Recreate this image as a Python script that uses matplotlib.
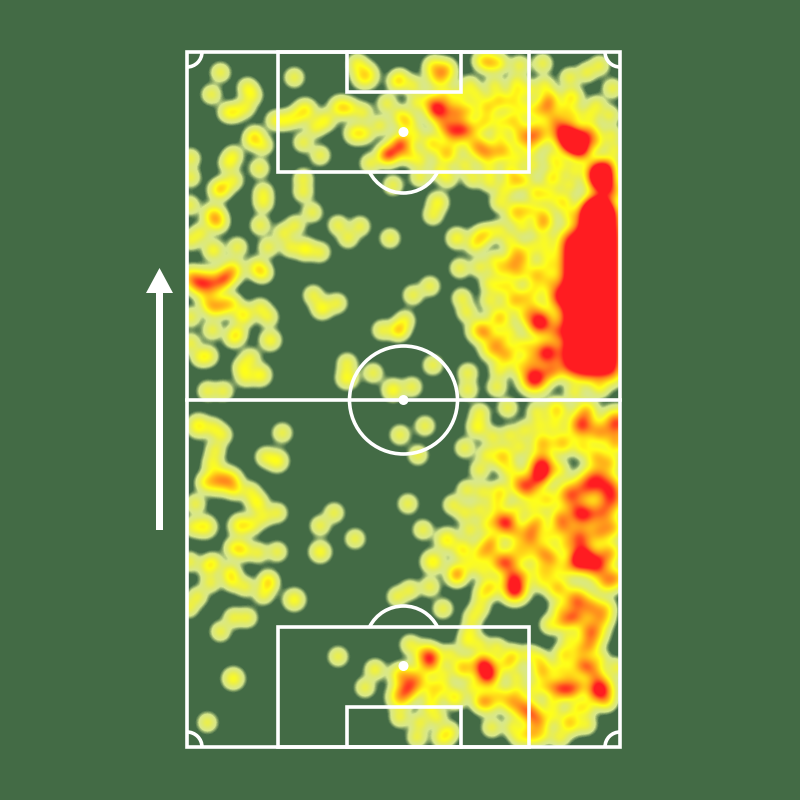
import numpy as np
import matplotlib
matplotlib.use("Agg")
import matplotlib.pyplot as plt
from matplotlib.colors import LinearSegmentedColormap
from matplotlib.patches import Arc, Circle, Rectangle, FancyArrow

# touches (x, y, count) in pitch-picture units
own_half_left = [
 (198,426,2),(213,428,1),(222,435,1),(215,450,1),(282,433,1),(265,457,1),(277,461,1.6),(212,463,1),(217,480,4),(230,481,2.5),
 (205,483,1),(235,490,1),(250,492,1),(257,503,1.6),(195,504,1),(277,513,1),(263,517,1),(205,527,1.7),(193,527,1),(240,526,2),
 (252,525,1),(242,550,1.7),(233,548,1),(258,553,1),(277,552,1),(189,562,1),(213,563,1),(207,567,1),(230,573,1.4),(268,580,1),
 (334,513,1),(320,526,1),(355,539,1),(320,552,1.5),
 (210,583,1),(197,597,1),(188,608,1),(232,582,1),(245,587,1),(268,585,1),(263,595,1),(294,600,1.6),(233,618,1),(247,618,1),
 (220,632,1),(338,657,1),(233,679,1.6),(207,723,1),(365,688,1),(375,670,1.2),(397,597,1),
]
own_half_right = [
 (425,426,1),(400,435,1),(465,448,1),(418,455,1),(408,504,1),(480,413,1),(478,427,1.6),(508,408,1),(537,412,1),(557,410,2.5),
 (582,425,7),(600,433,3),(617,423,7),(587,410,2),(543,443,3),(563,443,3),(583,447,1.5),(493,437,1),(503,457,3),(542,465,7),
 (560,470,1),(520,483,3),(528,490,3),(537,480,3),(543,473,2),(570,495,6),(587,487,5),(597,478,5),(610,487,5),(613,500,5),
 (587,515,4),(603,513,4),(578,513,4),(597,457,2.5),(610,463,2),(617,443,3),(467,490,1),(483,492,1),(500,493,2),(453,505,1),
 (465,513,1),(517,510,1),(533,507,1),(547,500,2),(500,520,3),(507,527,3),(533,528,3),(530,540,3),(543,553,3.5),(553,560,2),
 (563,527,3),(580,538,6),(600,533,3),(613,528,2.5),(583,557,7),(597,565,7),(577,563,3),(610,553,3),(423,530,1),(447,540,2),
 (433,562,2),(463,550,2),(488,548,3),(457,573,2),(510,562,3.5),(500,563,3),(483,570,1),(517,547,1),(550,573,1),(513,577,2),
 (493,540,1),(517,533,1),(560,517,2),
 (487,455,1),(480,470,1),(510,470,1),(520,447,1),(525,430,1),(510,435,1),(540,425,1),(555,425,1),(497,505,1),(510,520,1),
 (480,510,1),(487,525,1),(470,530,1),(480,555,1),(525,555,1),(540,520,1),(550,535,1),(565,545,1),(540,570,1),(565,570,1),
 (525,575,1),(470,565,1),
]
own_box_area = [
 (457,577,1),(443,609,1),(430,587,1),(410,590,1),(490,587,2),(515,587,6),(515,592,2),(542,582,1),(558,588,3),(577,601,6),
 (593,608,3),(592,632,6),(607,582,3),(617,578,2),(607,608,1),(563,622,2),(577,618,2),(603,618,2),(480,608,1),(483,595,1),
 (590,647,2),(565,655,2),(582,665,3),(590,668,2),(617,668,1),(543,672,3),(565,690,3),(557,688,2),(573,690,2),(547,687,1),
 (600,690,9),(597,675,1),(607,702,1),(587,708,1),(513,657,2),(507,665,1),(487,670,6),(488,678,3),(482,663,2),(463,668,3),
 (425,655,3),(433,657,2),(430,665,2),(415,681,5),(407,690,2.5),(400,675,2),(400,698,3),(455,698,2),(488,702,3),(480,702,1),
 (510,702,2),(523,708,4),(533,715,3),(540,723,2),(570,723,3),(578,708,1),(553,715,1),(433,688,1),(443,688,1),(473,688,1),
 (500,695,1),(433,698,1),(467,642,1),(480,645,1),(497,648,1),(410,645,1),(450,655,1),(470,632,1),(473,618,1),(443,675,1),
 (517,678,1),(517,692,1),(553,703,1),(420,723,1),(443,738,1.4),(417,738,1),(450,732,1),(492,728,1),(520,738,1),(513,728,1),
 (533,738,1),(560,738,1),(543,735,1),(587,725,1),(437,718,1),(430,708,1),(400,718,1),(530,732,1),(570,618,1),
 (560,610,1),(550,625,1),(530,655,1),(540,660,1),(560,670,1),(535,690,1),(570,675,1),(580,685,1),(570,640,1),(580,650,1),
 (600,660,1),
]
opp_half_left = [
 (217,222,1.6),(200,233,1),(190,240,1),(260,225,1),(213,250,1.4),(237,247,1),(268,247,1),(283,233,1),(295,225,1),(290,247,1),
 (305,249,1.7),(320,252,1),(338,225,1),(348,238,1),(360,226,1),(390,238,1),(232,270,2.5),(223,277,1),(257,268,1.6),(263,273,1),
 (208,284,6),(197,283,2),(190,277,2),(220,283,1),(227,278,1),(223,305,2),(213,308,1.6),(232,303,1),(207,302,1),(243,315,2),
 (237,333,1),(233,338,1),(260,308,1),(268,317,1),(212,330,1),(270,340,1.4),(190,317,1),(190,343,1),(200,357,1),(208,356,1),
 (242,367,1),(250,358,1),(260,375,1.6),(245,377,1),(207,391,1),(223,391,1),(313,295,1),(322,308,1.6),(337,303,1),(382,330,1),
 (397,330,1),(347,363,1),(347,378,1.6),(373,373,1),(393,390,1.6),
]
opp_half_right = [
 (457,238,1.4),(480,237,1.6),(488,233,1),(475,245,1),(460,268,1),(480,267,1),(490,283,1),(430,286,1),(413,295,1),(405,320,1),
 (400,330,1),(462,298,1),(467,312,1),(518,252,2),(512,265,3),(537,275,3),(550,282,1),(515,300,3),(500,318,3),(480,330,3),
 (493,348,3),(507,355,3),(540,322,9),(547,353,8),(557,332,2),(535,378,9),(487,333,1),(510,333,1),(530,347,1),(520,367,1),
 (550,373,1),(500,370,1),(497,387,1),(468,373,1),(468,390,1),(433,365,1),(412,387,1),(540,227,1),(547,223,1),(523,227,1),
 (533,247,1),(547,253,1),(520,273,1),(500,287,1),(527,297,1),(533,307,1),(600,388,1),(575,392,1),
 (500,230,1),(510,240,1),(495,260,1),(500,270,1),(525,260,1),(545,240,1),(550,265,1),(535,290,1),(510,285,1),(490,300,1),
 (525,315,1),(500,340,1),(520,345,1),(530,360,1),(555,370,1),
]
red_zone = [
 (570,240,5),(570,254,5),(570,268,5),(570,282,5),(558,296,5),(570,296,5),(570,310,5),(570,324,5),(572,338,5),(570,352,5),(570,366,5),
 (584,230,5),(584,244,5),(584,258,5),(584,272,5),(584,286,5),(584,300,5),(584,314,5),(584,328,5),(584,342,5),(584,356,5),(584,370,5),
 (598,230,5),(598,244,5),(598,258,5),(598,272,5),(598,286,5),(598,300,5),(598,314,5),(598,328,5),(598,342,5),(598,356,5),(598,370,5),
 (612,230,5),(612,244,5),(612,258,5),(612,272,5),(612,286,5),(612,300,5),(612,314,5),(612,328,5),(612,342,5),(612,356,5),(612,370,5),
]
opp_box_left = [
 (220,72,1),(211,94,1),(247,87,1),(252,95,1),(245,107,1),(227,112,1),(235,112,1),(294,77,1),(365,75,3),(357,63,1),
 (305,110,2),(295,117,1),(285,120,1),(275,120,1),(325,120,1.4),(315,127,1),(303,142,1),(340,107,2),(350,108,1),(363,112,1),
 (355,133,1.6),(365,133,1),(320,155,1),(255,135,1),(252,140,1),(263,145,1),(233,155,1),(228,163,1),(259,168,1),(233,180,1),
 (218,190,1.4),(223,187,1),(190,158,1),(190,177,1),(303,178,1),(303,192,1),(263,192,1),(263,203,1),(312,212,1),(213,215,2.2),
 (189,205,1),(370,163,1),(397,82,1),(387,103,1),(380,125,1),(393,152,2),(387,155,1.5),(400,142,1),(393,185,1),(400,115,1),
]
opp_box_right = [
 (440,75,4),(433,65,1),(447,68,1),(413,85,1),(400,78,1),(490,62,2),(482,60,1),(500,63,1),(520,65,1),(543,63,1),
 (600,65,1),(587,72,1),(570,77,1),(517,92,1),(500,100,2),(487,107,2),(477,95,1),(517,82,1),(440,110,6.5),(435,108,1),
 (458,112,3),(457,132,5),(450,130,1),(463,128,1),(443,125,1),(513,120,2),(500,122,1),(487,120,1),(523,108,1),(513,102,1),
 (550,98,2),(547,108,3),(572,97,2),(597,105,1),(613,88,1),(537,133,5),(530,138,1),(563,130,6),(577,143,9),(570,140,6),
 (590,133,3),(597,142,1),(583,152,2),(477,145,3),(487,153,3),(503,150,3),(447,153,3),(432,143,2),(407,122,2),(402,145,3),
 (517,158,1),(533,165,1),(553,158,1),(600,172,10),(603,182,8),(598,208,12),(590,215,8),(607,215,8),(515,180,2),(537,193,2),
 (553,178,2),(517,212,3),(563,202,2),(613,192,2),(420,177,1),(448,178,1),(473,178,1),(490,182,1),(438,202,1.4),(433,215,1),
 (500,202,1),(543,215,2),(417,102,1),(430,100,1),(470,130,1),(410,155,1),(385,155,1),
 (480,125,1),(470,110,1),(500,135,1),(520,140,1),(520,130,1),(495,85,1),(470,85,1),(460,95,1),(445,95,1),(415,135,1),
 (420,160,1),(440,170,1),(465,165,1),(490,170,1),(510,170,1),(530,150,1),(535,110,1),(530,90,1),(555,120,1),(545,85,1),
 (565,110,1),(590,115,1),(610,115,1),(615,150,1),(612,135,1),(575,115,1),(560,165,1),(575,170,1),(570,185,1),(550,195,1),
 (530,210,1),(525,180,1),(505,190,1),(570,215,1),(610,165,1),
]

touches = np.array(own_half_left + own_half_right + own_box_area + opp_half_left +
                   opp_half_right + red_zone + opp_box_left + opp_box_right, dtype=float)

BG = "#436b45"
VMAX = 4.0
def s(v):
    return v / VMAX
cmap = LinearSegmentedColormap.from_list("touch", [
    (0.000, (0.85, 0.91, 0.55, 0.0)),
    (s(0.14), (0.85, 0.91, 0.55, 0.0)),
    (s(0.40), (0.85, 0.91, 0.55, 1.0)),
    (s(0.75), (0.88, 0.92, 0.42, 1.0)),
    (s(1.05), (0.93, 0.94, 0.28, 1.0)),
    (s(1.55), (1.00, 1.00, 0.10, 1.0)),
    (s(2.30), (1.00, 0.76, 0.10, 1.0)),
    (s(3.10), (1.00, 0.50, 0.12, 1.0)),
    (1.000, (1.00, 0.11, 0.13, 1.0)),
])

fig = plt.figure(figsize=(8, 8), dpi=100, facecolor=BG)
ax = fig.add_axes([0, 0, 1, 1])
ax.set_xlim(0, 800)
ax.set_ylim(800, 0)
ax.axis("off")

gx = np.arange(187, 621, 1.0)
gy = np.arange(52, 748, 1.0)
X, Y = np.meshgrid(gx, gy)
Z = np.zeros_like(X)
SIGMA = 6.3
for px, py, w in touches:
    spread = min(1 + 0.25 * (w - 1), 2.0)   # a repeated spot is a small scatter of touches
    Z += (w / spread) * np.exp(-((X - px) ** 2 + (Y - py) ** 2) / (2 * SIGMA ** 2 * spread))
ax.imshow(Z, extent=(187, 620, 747, 52), cmap=cmap, vmin=0, vmax=VMAX,
          aspect="auto", origin="upper", interpolation="bilinear", zorder=1)
ax.set_xlim(0, 800)
ax.set_ylim(800, 0)

LW = 2.6
line = dict(edgecolor="white", facecolor="none", linewidth=LW, zorder=3)
ax.add_patch(Rectangle((187, 52), 433, 695, **line))
ax.add_patch(Rectangle((278, 52), 251, 120, **line))
ax.add_patch(Rectangle((278, 627), 251, 120, **line))
ax.add_patch(Rectangle((347, 52), 114, 40, **line))
ax.add_patch(Rectangle((347, 707), 114, 40, **line))
ax.plot([187, 620], [400, 400], color="white", lw=LW, zorder=3)
ax.add_patch(Circle((403.5, 400), 54, **line))
for cy in (132, 400, 666):
    ax.add_patch(Circle((403.5, cy), 5, facecolor="white", edgecolor="none", zorder=4))
ax.add_patch(Arc((403.5, 155), 76, 76, theta1=27, theta2=153, edgecolor="white", lw=LW, zorder=3))
ax.add_patch(Arc((403.5, 644), 76, 76, theta1=207, theta2=333, edgecolor="white", lw=LW, zorder=3))
for cx, cy, t1 in ((187, 52, 0), (620, 52, 90), (620, 747, 180), (187, 747, 270)):
    ax.add_patch(Arc((cx, cy), 30, 30, theta1=t1, theta2=t1 + 90, edgecolor="white", lw=LW, zorder=3))
ax.add_patch(FancyArrow(159.5, 530, 0, -262, width=7, head_width=27, head_length=25,
                        length_includes_head=True, facecolor="white", edgecolor="none", zorder=3))

fig.savefig("out.png", dpi=100, facecolor=BG)
